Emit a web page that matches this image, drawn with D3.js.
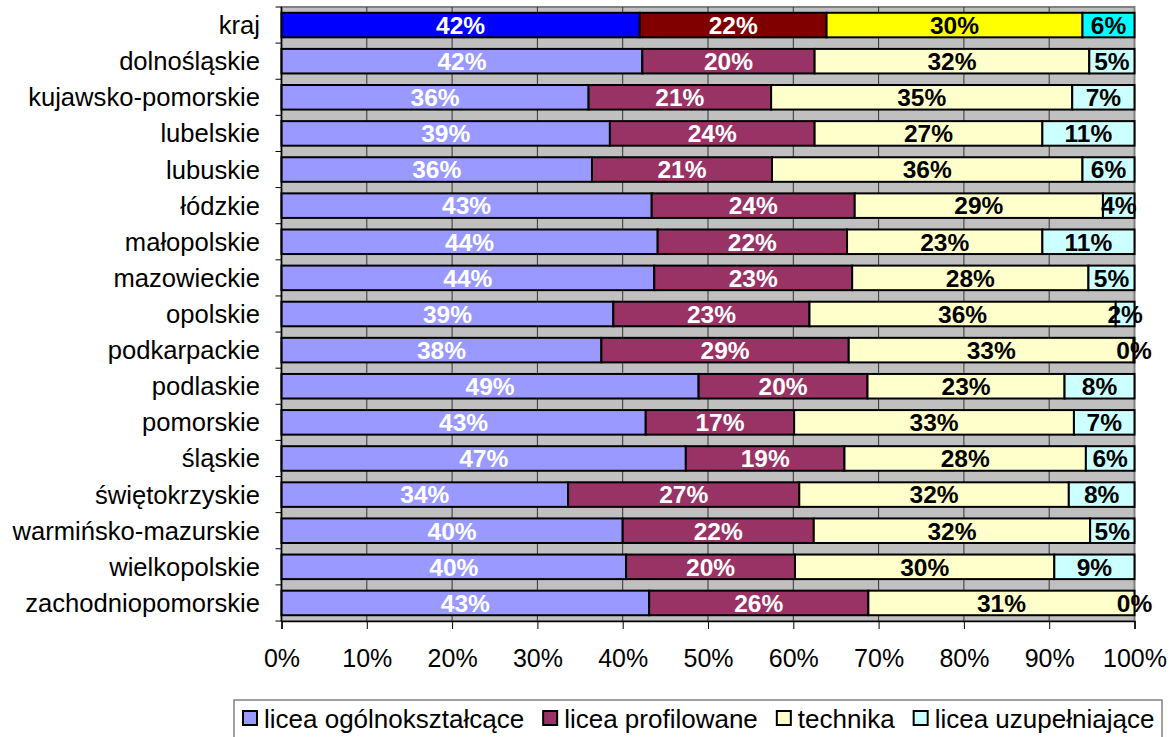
<!DOCTYPE html>
<html>
<head>
<meta charset="utf-8">
<script src="https://cdn.jsdelivr.net/npm/d3@7"></script>
<style>
  body { margin: 0; background: #fff; }
  svg { display: block; font-family: Arial, "Liberation Sans", sans-serif; }
</style>
</head>
<body>
<div id="chart"></div>
<script>
// województwa
var categories = ["kraj", "dolnośląskie", "kujawsko-pomorskie", "lubelskie", "lubuskie", "łódzkie",
    "małopolskie", "mazowieckie", "opolskie", "podkarpackie", "podlaskie", "pomorskie", "śląskie",
    "świętokrzyskie", "warmińsko-mazurskie", "wielkopolskie", "zachodniopomorskie"];

var seriesNames = ["licea ogólnokształcące", "licea profilowane", "technika", "licea uzupełniające"];

var ogolne        = [42.0, 42.3, 36.0, 38.5, 36.4, 43.4, 44.1, 43.7, 38.9, 37.5, 48.9, 42.7, 47.4, 33.6, 40.0, 40.4, 43.1];
var profilowane   = [21.9, 20.2, 21.4, 24.0, 21.1, 23.8, 22.2, 23.2, 23.0, 29.0, 19.8, 17.4, 18.6, 27.1, 22.4, 19.8, 25.7];
var technika      = [30.0, 32.2, 35.3, 26.7, 36.4, 29.1, 22.9, 27.7, 35.9, 33.4, 23.1, 32.8, 28.3, 31.6, 32.4, 30.4, 31.2];
var uzupelniajace = [6.1, 5.3, 7.3, 10.8, 6.1, 3.7, 10.8, 5.4, 2.2, 0.1, 8.2, 7.1, 5.7, 7.7, 5.2, 9.4, 0.0];

var xTicks = [0, 10, 20, 30, 40, 50, 60, 70, 80, 90, 100];

var colors     = ["#9999ff", "#993366", "#ffffcc", "#ccffff"];
var krajColors = ["#0000ff", "#800000", "#ffff00", "#00ffff"];
var labelColors = ["#fff", "#fff", "#000", "#000"];

var width = 1175, height = 737;
var plotLeft = 281.5, plotRight = 1134.5, plotTop = 7, plotBottom = 621;

var rows = categories.map(function (c, i) {
    return { cat: c, s0: ogolne[i], s1: profilowane[i], s2: technika[i], s3: uzupelniajace[i] };
});
var stack = d3.stack().keys(["s0", "s1", "s2", "s3"]);
var layers = stack(rows);

var x = d3.scaleLinear().domain([0, 100]).range([plotLeft, plotRight]);
var y = d3.scaleBand().domain(categories).range([plotTop, plotBottom]).paddingInner(0.32).paddingOuter(0.16);

var svg = d3.select("#chart").append("svg")
    .attr("width", width)
    .attr("height", height);

// tło wykresu
svg.append("rect")
    .attr("x", plotLeft).attr("y", plotTop)
    .attr("width", plotRight - plotLeft).attr("height", plotBottom - plotTop)
    .attr("fill", "#c0c0c0")
    .attr("stroke", "#808080")
    .attr("stroke-width", 2);

// linie siatki
svg.append("g").selectAll("line")
    .data(xTicks.slice(1, -1))
    .enter().append("line")
    .attr("x1", function (d) { return x(d); })
    .attr("x2", function (d) { return x(d); })
    .attr("y1", plotTop).attr("y2", plotBottom)
    .attr("stroke", "#333")
    .attr("stroke-width", 1);

// słupki
var g = svg.append("g").selectAll("g")
    .data(layers)
    .enter().append("g");

g.selectAll("rect")
    .data(function (d, k) { return d.map(function (p) { return { p: p, k: k }; }); })
    .enter().append("rect")
    .attr("x", function (d) { return x(d.p[0]); })
    .attr("y", function (d) { return y(d.p.data.cat); })
    .attr("width", function (d) { return x(d.p[1]) - x(d.p[0]); })
    .attr("height", y.bandwidth())
    .attr("fill", function (d) { return d.p.data.cat === "kraj" ? krajColors[d.k] : colors[d.k]; })
    .attr("stroke", "#000")
    .attr("stroke-width", 2);

// etykiety
g.selectAll("text")
    .data(function (d, k) { return d.map(function (p) { return { p: p, k: k }; }); })
    .enter().append("text")
    .attr("x", function (d) { return (x(d.p[0]) + x(d.p[1])) / 2; })
    .attr("y", function (d) { return y(d.p.data.cat) + y.bandwidth() / 2 + 8.8; })
    .attr("text-anchor", "middle")
    .attr("font-size", "24.5px")
    .attr("font-weight", "bold")
    .attr("fill", function (d) { return labelColors[d.k]; })
    .text(function (d) { return Math.round(d.p[1] - d.p[0]) + "%"; });

// oś X
var xAxis = d3.axisBottom(x).tickValues(xTicks).tickSize(8).tickPadding(20)
    .tickFormat(function (d) { return d + "%"; });
var gx = svg.append("g").attr("transform", "translate(0," + plotBottom + ")").call(xAxis);
gx.select(".domain").attr("stroke", "#000").attr("stroke-width", 1.5);
gx.selectAll(".tick line").attr("stroke", "#000");
gx.selectAll("text").attr("font-size", "25px").attr("fill", "#000")
    .attr("font-family", "Arial, 'Liberation Sans', sans-serif");

// oś Y
var rowH = (plotBottom - plotTop) / categories.length;
svg.append("line")
    .attr("x1", plotLeft).attr("x2", plotLeft).attr("y1", plotTop).attr("y2", plotBottom)
    .attr("stroke", "#000").attr("stroke-width", 1.5);
svg.append("g").selectAll("line")
    .data(d3.range(categories.length + 1))
    .enter().append("line")
    .attr("x1", plotLeft - 6).attr("x2", plotLeft)
    .attr("y1", function (i) { return plotTop + i * rowH; })
    .attr("y2", function (i) { return plotTop + i * rowH; })
    .attr("stroke", "#000");
svg.append("g").selectAll("text")
    .data(categories)
    .enter().append("text")
    .attr("x", 260)
    .attr("y", function (d) { return y(d) + y.bandwidth() / 2 + 9; })
    .attr("text-anchor", "end")
    .attr("font-size", "25.6px")
    .attr("fill", "#000")
    .text(function (d) { return d; });

// legenda
svg.append("rect")
    .attr("x", 234).attr("y", 700)
    .attr("width", 928).attr("height", 45)
    .attr("fill", "#fff")
    .attr("stroke", "#808080")
    .attr("stroke-width", 1.5);

var lx = 243;
seriesNames.forEach(function (name, i) {
    svg.append("rect")
        .attr("x", lx).attr("y", 711)
        .attr("width", 14).attr("height", 14)
        .attr("fill", colors[i])
        .attr("stroke", "#000")
        .attr("stroke-width", 2);
    var t = svg.append("text")
        .attr("x", lx + 21).attr("y", 728)
        .attr("font-size", "26px")
        .attr("fill", "#000")
        .text(name);
    lx = lx + 21 + t.node().getComputedTextLength() + 19;
});
</script>
</body>
</html>
